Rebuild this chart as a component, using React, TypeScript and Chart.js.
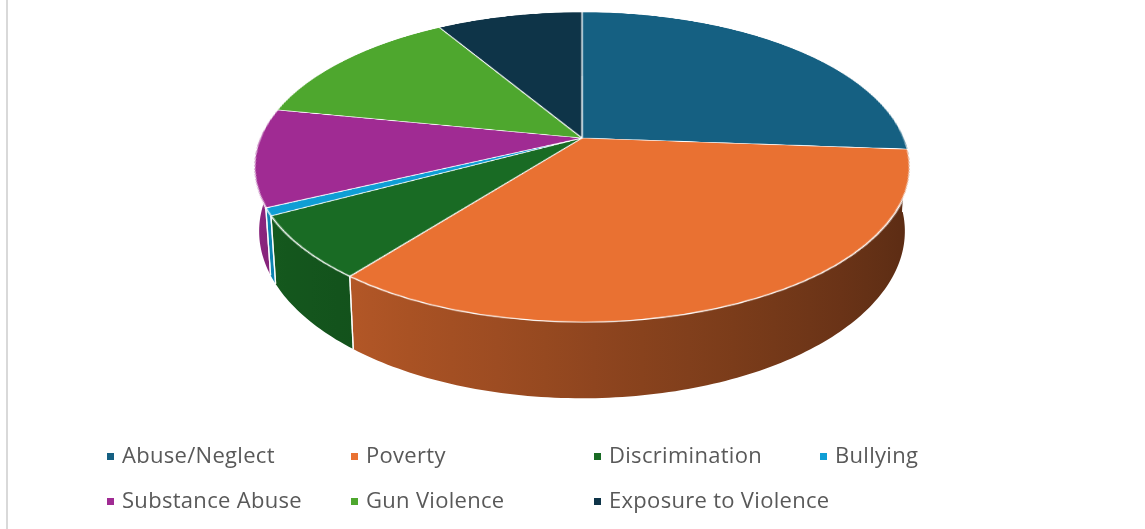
import React, { useEffect, useRef } from "react";
import { Chart, registerables } from "chart.js";

Chart.register(...registerables);

// ---- data ----
const categories = [
  "Abuse/Neglect",
  "Poverty",
  "Discrimination",
  "Bullying",
  "Substance Abuse",
  "Gun Violence",
  "Exposure to Violence",
];
const values = [26.2, 34.4, 6.6, 0.8, 10.2, 13.3, 8.6];
const colors = ["#156082", "#E97132", "#196B24", "#0F9ED5", "#A02B93", "#4EA72E", "#0E3448"];

// legend layout (column x of marker, row baselines)
const legendCols = [107, 351, 594, 820];
const legendRows = [462, 507];

// ---- 3D projection params ----
const X0 = 582;
const Y0 = 138;
const A = 322;
const B = 149.6;
const K = 0.187;
const DEPTH = 62;

function hexToRgb(h: string) {
  const n = parseInt(h.slice(1), 16);
  return [(n >> 16) & 255, (n >> 8) & 255, n & 255];
}
function shade(h: string, f: number) {
  const [r, g, b] = hexToRgb(h);
  return `rgb(${Math.round(r * f)},${Math.round(g * f)},${Math.round(b * f)})`;
}
function P(t: number) {
  const w = 1 / (1 - K * Math.sin(t));
  return [X0 + A * Math.cos(t) * w, Y0 + B * Math.sin(t) * w];
}
function Q(t: number) {
  const [x, y] = P(t);
  const w = 1 / (1 - K * Math.sin(t));
  return [X0 + (x - X0) * 0.985, y + DEPTH * w];
}
const shadeF = (t: number) => 0.62 - 0.24 * Math.cos(t);

const pie3d = {
  id: "pie3d",
  afterDatasetsDraw(chart: any) {
    const meta = chart.getDatasetMeta(0);
    const arcs = meta.data;
    if (!arcs.length) return;
    const scx = arcs[0].x;
    const scy = arcs[0].y;
    const R = arcs[0].outerRadius;
    const ctx: CanvasRenderingContext2D = chart.ctx;
    const canvas: HTMLCanvasElement = chart.canvas;

    const tmp = document.createElement("canvas");
    tmp.width = canvas.width;
    tmp.height = canvas.height;
    tmp.getContext("2d")!.drawImage(canvas, 0, 0);

    ctx.save();
    ctx.setTransform(1, 0, 0, 1, 0, 0);
    ctx.clearRect(0, 0, canvas.width, canvas.height);

    // side walls
    const tMin = Math.asin(K);
    arcs.forEach((arc: any, i: number) => {
      const s = Math.max(arc.startAngle, 0);
      const e = Math.min(arc.endAngle, Math.PI);
      if (e <= s) return;
      const base = colors[i];
      const g = ctx.createLinearGradient(X0 - 330, 0, X0 + 330, 0);
      for (let j = 0; j <= 24; j++) {
        const t = tMin + ((Math.PI - tMin) * j) / 24;
        const x = P(t)[0];
        const pos = Math.min(1, Math.max(0, (x - (X0 - 330)) / 660));
        g.addColorStop(pos, shade(base, shadeF(t)));
      }
      ctx.beginPath();
      const steps = Math.max(2, Math.ceil(((e - s) * 180) / Math.PI));
      for (let j = 0; j <= steps; j++) {
        const t = s + ((e - s) * j) / steps;
        const [x, y] = P(t);
        if (j === 0) ctx.moveTo(x, y);
        else ctx.lineTo(x, y);
      }
      for (let j = steps; j >= 0; j--) {
        const t = s + ((e - s) * j) / steps;
        const [x, y] = Q(t);
        ctx.lineTo(x, y);
      }
      ctx.closePath();
      ctx.fillStyle = g;
      ctx.fill();
    });
    // seams
    ctx.strokeStyle = "rgba(255,255,255,0.9)";
    ctx.lineWidth = 1.3;
    arcs.forEach((arc: any) => {
      [arc.startAngle, arc.endAngle].forEach((t: number) => {
        if (t > 0.001 && t < Math.PI - 0.001) {
          const [x1, y1] = P(t);
          const [x2, y2] = Q(t);
          ctx.beginPath();
          ctx.moveTo(x1, y1);
          ctx.lineTo(x2, y2);
          ctx.stroke();
        }
      });
    });

    // warped top face
    ctx.imageSmoothingEnabled = true;
    const Rs = R + 2;
    const yTop = Math.floor(Y0 - B / (1 + K)) - 1;
    const yBot = Math.ceil(Y0 + B / (1 - K)) + 1;
    for (let y = yTop; y <= yBot; y++) {
      const d = (y + 0.5 - Y0) / B;
      const v = d / (1 + K * d);
      if (Math.abs(v) > Rs / R) continue;
      const w = 1 / (1 - K * v);
      const dvdy = 1 / (B * (1 + K * d) * (1 + K * d));
      const sh = Math.max(0.5, R * dvdy);
      const sy = scy + v * R - sh / 2;
      const half = A * w * (Rs / R);
      ctx.drawImage(tmp, scx - Rs, sy, 2 * Rs, sh, X0 - half, y, 2 * half, 1);
    }
    ctx.restore();
  },
};

export default function App() {
  const ref = useRef<HTMLCanvasElement>(null);
  useEffect(() => {
    const chart = new Chart(ref.current!, {
      type: "pie",
      data: {
        labels: categories,
        datasets: [
          {
            data: values,
            backgroundColor: colors,
            borderColor: "#ffffff",
            borderWidth: 1.2,
          },
        ],
      },
      options: {
        responsive: false,
        animation: false,
        layout: { padding: 4 },
        plugins: { legend: { display: false }, tooltip: { enabled: false } },
      },
      plugins: [pie3d],
    });
    return () => chart.destroy();
  }, []);

  const items = categories.map((c, i) => {
    const col = i < 4 ? i : i - 4;
    const row = i < 4 ? 0 : 1;
    const mx = legendCols[col];
    const base = legendRows[row];
    return (
      <React.Fragment key={c}>
        <div
          style={{
            position: "absolute",
            left: mx,
            top: base - 9,
            width: 7,
            height: 7,
            background: colors[i],
          }}
        />
        <div
          style={{
            position: "absolute",
            left: mx + 15,
            top: base - 19.5,
            fontFamily: "'Open Sans', sans-serif",
            fontSize: 22,
            lineHeight: "22px",
            letterSpacing: "0.3px",
            color: "#595959",
            whiteSpace: "nowrap",
          }}
        >
          {c}
        </div>
      </React.Fragment>
    );
  });

  return (
    <div
      style={{
        position: "fixed",
        left: 0,
        top: 0,
        width: 1145,
        height: 529,
        background: "#ffffff",
        overflow: "hidden",
      }}
    >
      <div style={{ position: "absolute", left: 6, top: 0, width: 2, height: 529, background: "#d9d9d9" }} />
      <canvas
        ref={ref}
        width={1145}
        height={529}
        style={{ position: "absolute", left: 0, top: 0, width: 1145, height: 529 }}
      />
      {items}
    </div>
  );
}
